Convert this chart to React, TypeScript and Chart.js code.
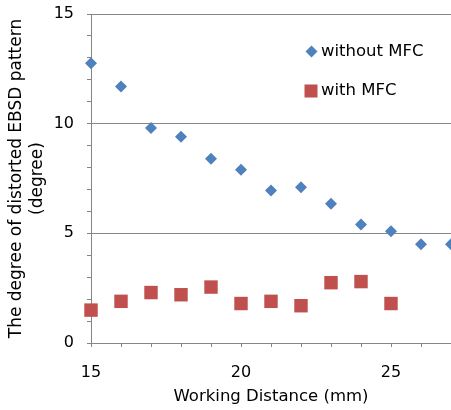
import React, { useEffect, useRef } from "react";
import { Chart, registerables } from "chart.js";

Chart.register(...registerables);

const workingDistance = [15, 16, 17, 18, 19, 20, 21, 22, 23, 24, 25, 26, 27];
const withoutMFC = [12.75, 11.7, 9.8, 9.4, 8.4, 7.9, 6.95, 7.1, 6.35, 5.4, 5.1, 4.5, 4.5];
const withMFCDistance = [15, 16, 17, 18, 19, 20, 21, 22, 23, 24, 25];
const withMFC = [1.5, 1.9, 2.3, 2.2, 2.55, 1.8, 1.9, 1.7, 2.75, 2.8, 1.8];
const seriesLabels = ["without MFC", "with MFC"];
const xTitle = "Working Distance (mm)";
const yTitle = ["The degree of distorted EBSD pattern", "(degree)"];

const BLUE = "#4F81BD";
const RED = "#C0504D";
const GRID = "#868686";
const FONT = "'DejaVu Sans', sans-serif";

const legendPlugin = {
  id: "insideLegend",
  afterDraw(chart: any) {
    const ctx = chart.ctx;
    ctx.save();
    ctx.fillStyle = BLUE;
    ctx.beginPath();
    const dx = 311.5, dy = 51.5, r = 6;
    ctx.moveTo(dx - r, dy);
    ctx.lineTo(dx, dy - r);
    ctx.lineTo(dx + r, dy);
    ctx.lineTo(dx, dy + r);
    ctx.closePath();
    ctx.fill();
    ctx.fillStyle = RED;
    ctx.fillRect(304.5, 84.5, 13, 13);
    ctx.fillStyle = "#000";
    ctx.font = `16.5px ${FONT}`;
    ctx.textAlign = "left";
    ctx.textBaseline = "middle";
    ctx.fillText(seriesLabels[0], 321, 52);
    ctx.fillText(seriesLabels[1], 321, 91);
    ctx.restore();
  },
};

export default function App() {
  const ref = useRef<HTMLCanvasElement>(null);
  useEffect(() => {
    document.body.style.margin = "0";
    const chart = new Chart(ref.current!, {
      type: "scatter",
      data: {
        datasets: [
          {
            label: seriesLabels[0],
            data: workingDistance.map((x, i) => ({ x, y: withoutMFC[i] })),
            pointStyle: "rectRot",
            pointRadius: 6,
            pointHoverRadius: 6,
            backgroundColor: BLUE,
            borderColor: BLUE,
            borderWidth: 0,
            clip: false,
          },
          {
            label: seriesLabels[1],
            data: withMFCDistance.map((x, i) => ({ x, y: withMFC[i] })),
            pointStyle: "rect",
            pointRadius: 9.5,
            pointHoverRadius: 9.5,
            backgroundColor: RED,
            borderColor: RED,
            borderWidth: 0,
            clip: false,
          },
        ],
      },
      options: {
        animation: false,
        responsive: false,
        maintainAspectRatio: false,
        layout: { autoPadding: false, padding: { top: 14, right: 0, left: 0, bottom: 0 } },
        plugins: { legend: { display: false }, tooltip: { enabled: false } },
        scales: {
          x: {
            type: "linear",
            min: 15,
            max: 27,
            afterFit: (s: any) => {
              s.height = 67;
              s.paddingRight = 0;
              s.paddingLeft = 0;
            },
            ticks: {
              stepSize: 1,
              autoSkip: false,
              maxRotation: 0,
              padding: 16,
              color: "#000",
              font: { family: FONT, size: 16 },
              callback: (v: any) => (Number(v) % 5 === 0 ? String(v) : ""),
            },
            grid: {
              drawOnChartArea: false,
              color: GRID,
              tickLength: 4,
            },
            border: { color: GRID, width: 1 },
            title: {
              display: true,
              text: xTitle,
              color: "#000",
              font: { family: FONT, size: 16.5 },
              padding: { top: 0, bottom: 3 },
            },
          },
          y: {
            min: 0,
            max: 15,
            afterFit: (s: any) => {
              s.width = 91;
              s.paddingTop = 0;
              s.paddingBottom = 0;
            },
            ticks: {
              stepSize: 1,
              autoSkip: false,
              padding: 13,
              color: "#000",
              font: { family: FONT, size: 16 },
              callback: (v: any) => (Number(v) % 5 === 0 ? String(v) : ""),
            },
            grid: {
              color: (c: any) => (c.tick && c.tick.value % 5 === 0 ? GRID : "rgba(0,0,0,0)"),
              tickColor: GRID,
              tickLength: 4,
            },
            border: { color: GRID, width: 1 },
            title: {
              display: true,
              text: yTitle,
              color: "#000",
              font: { family: FONT, size: 17, lineHeight: 1.24 },
              padding: { top: 6, bottom: 0 },
            },
          },
        },
      },
      plugins: [legendPlugin],
    });
    return () => chart.destroy();
  }, []);
  return (
    <div style={{ width: 451, height: 410 }}>
      <canvas ref={ref} width={451} height={410} style={{ display: "block" }} />
    </div>
  );
}
